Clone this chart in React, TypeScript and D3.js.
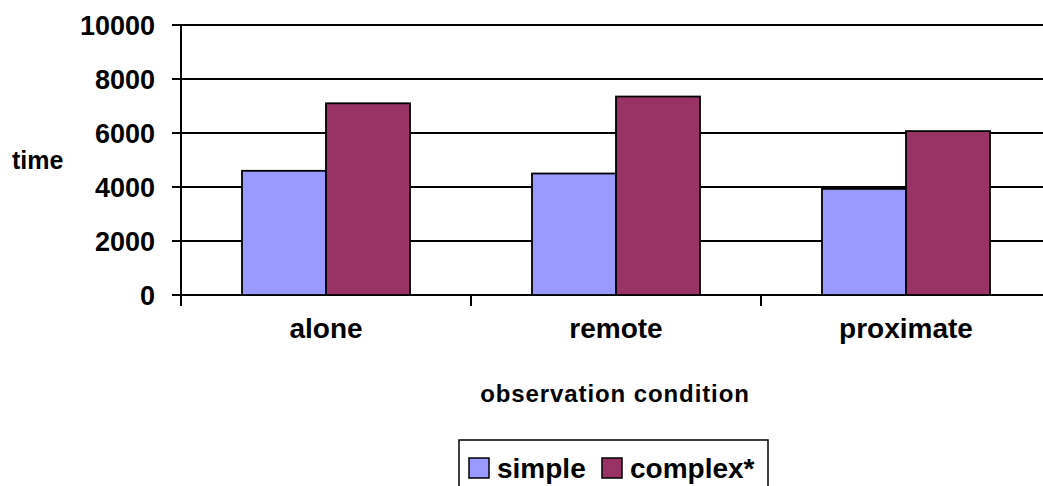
import React, { useEffect, useRef } from 'react';
import * as d3 from 'd3';

const categories = ['alone', 'remote', 'proximate'];
const seriesNames = ['simple', 'complex*'];
const simpleValues = [4600, 4500, 3930];
const complexValues = [7100, 7350, 6070];
const yTicks = [0, 2000, 4000, 6000, 8000, 10000];
const colors = ['#9999FF', '#993366'];

const FONT = 'Liberation Sans, Arial, sans-serif';

const App: React.FC = () => {
  const svgRef = useRef<SVGSVGElement>(null);

  useEffect(() => {
    if (!svgRef.current) return;
    d3.select(svgRef.current).selectAll('*').remove();

    const width = 1043;
    const height = 486;
    const left = 181;
    const top = 25;
    const plotW = 870;
    const plotH = 270;

    const svg = d3.select(svgRef.current)
      .attr('width', width)
      .attr('height', height)
      .style('font-family', FONT);

    const x = d3.scaleBand<string>().domain(categories).range([left, left + plotW]);
    const xs = d3.scaleBand<string>().domain(seriesNames).range([0, x.bandwidth()]).paddingInner(0).paddingOuter(0.726);
    const y = d3.scaleLinear().domain([0, 10000]).range([top + plotH, top]);

    // gridlines
    svg.append('g')
      .selectAll('line')
      .data(yTicks)
      .enter()
      .append('line')
      .attr('x1', left - 9)
      .attr('x2', left + plotW)
      .attr('y1', d => y(d))
      .attr('y2', d => y(d))
      .attr('stroke', '#000')
      .attr('stroke-width', 2);

    // y tick labels
    svg.append('g')
      .selectAll('text')
      .data(yTicks)
      .enter()
      .append('text')
      .attr('x', 155)
      .attr('y', d => y(d))
      .attr('dy', '0.36em')
      .attr('text-anchor', 'end')
      .attr('font-size', '27px')
      .attr('font-weight', 'bold')
      .text(d => d);

    // bars
    const rows = categories.map((c, i) => ({ cat: c, vals: [simpleValues[i], complexValues[i]] }));
    const groups = svg.append('g')
      .selectAll('g')
      .data(rows)
      .enter()
      .append('g')
      .attr('transform', d => `translate(${x(d.cat)},0)`);

    groups.selectAll('rect')
      .data(d => d.vals.map((v, i) => ({ name: seriesNames[i], v, i })))
      .enter()
      .append('rect')
      .attr('x', d => xs(d.name)!)
      .attr('width', xs.bandwidth())
      .attr('y', d => y(d.v))
      .attr('height', d => y(0) - y(d.v))
      .attr('fill', d => colors[d.i])
      .attr('stroke', '#000')
      .attr('stroke-width', 1.8);

    // y axis line
    svg.append('line')
      .attr('x1', left).attr('x2', left)
      .attr('y1', top).attr('y2', y(0) + 11)
      .attr('stroke', '#000')
      .attr('stroke-width', 2);

    // x axis ticks
    const xTickPos = categories.map(c => x(c)!).concat([left + plotW]);
    svg.append('g')
      .selectAll('line')
      .data(xTickPos.slice(1))
      .enter()
      .append('line')
      .attr('x1', d => d).attr('x2', d => d)
      .attr('y1', y(0)).attr('y2', y(0) + 11)
      .attr('stroke', '#000')
      .attr('stroke-width', 2);

    // category labels
    svg.append('g')
      .selectAll('text')
      .data(categories)
      .enter()
      .append('text')
      .attr('x', d => x(d)! + x.bandwidth() / 2)
      .attr('y', 338)
      .attr('text-anchor', 'middle')
      .attr('font-size', '28px')
      .attr('font-weight', 'bold')
      .text(d => d);

    // axis titles
    svg.append('text')
      .attr('x', 615)
      .attr('y', 402)
      .attr('text-anchor', 'middle')
      .attr('font-size', '24px')
      .attr('font-weight', 'bold')
      .attr('letter-spacing', '0.9px')
      .text('observation condition');

    svg.append('text')
      .attr('x', 12)
      .attr('y', 169)
      .attr('font-size', '25px')
      .attr('font-weight', 'bold')
      .text('time');

    // legend
    const legend = svg.append('g');
    legend.append('rect')
      .attr('x', 459).attr('y', 440)
      .attr('width', 309).attr('height', 60)
      .attr('fill', '#fff')
      .attr('stroke', '#000')
      .attr('stroke-width', 1.5);

    const legendX = [469, 602];
    seriesNames.forEach((name, i) => {
      legend.append('rect')
        .attr('x', legendX[i]).attr('y', 458)
        .attr('width', 20).attr('height', 20)
        .attr('fill', colors[i])
        .attr('stroke', '#000')
        .attr('stroke-width', 1.5);
      legend.append('text')
        .attr('x', legendX[i] + 28)
        .attr('y', 478)
        .attr('font-size', '28px')
        .attr('font-weight', 'bold')
        .text(name);
    });
  }, []);

  return (
    <svg ref={svgRef} style={{ position: 'absolute', left: 0, top: 0, background: '#fff' }}></svg>
  );
};

export default App;
